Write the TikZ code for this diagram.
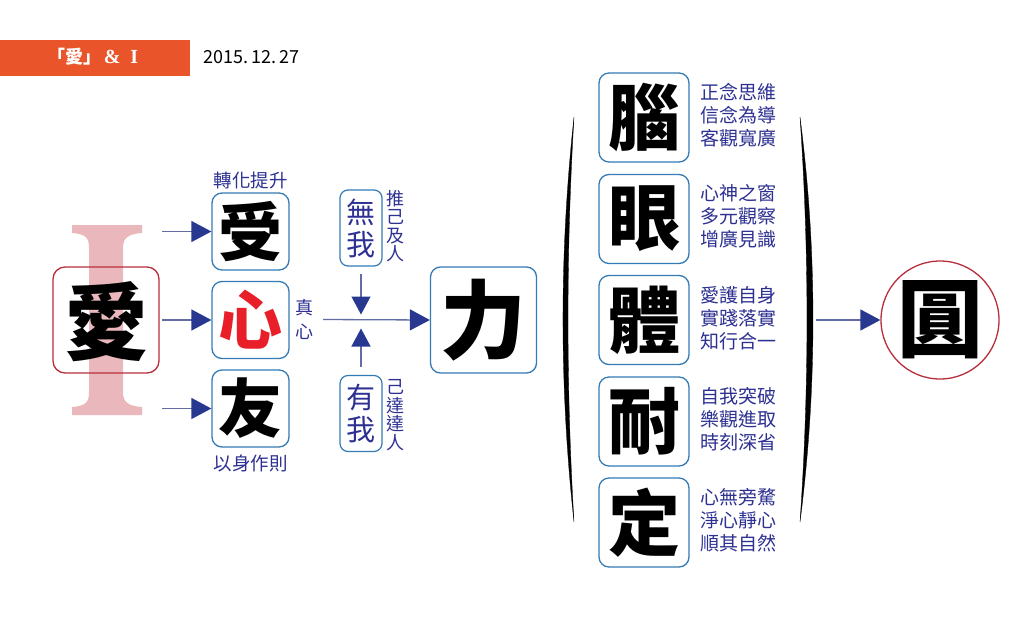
\documentclass[tikz,border=0pt]{standalone}
\usepackage{fontspec}
\newfontfamily\cjk{Noto Sans CJK TC}
\newfontfamily\titleserif{Liberation Serif}
\usetikzlibrary{arrows.meta}
\definecolor{orangebar}{RGB}{233,84,42}
\definecolor{navy}{RGB}{46,49,146}
\definecolor{arrnavy}{RGB}{40,56,144}
\definecolor{linecol}{RGB}{98,108,165}
\definecolor{boxblue}{RGB}{52,122,180}
\definecolor{boxred}{RGB}{184,46,60}
\definecolor{pinkI}{RGB}{234,184,188}
\definecolor{redchar}{RGB}{232,30,40}
\tikzset{
  bluebox/.style={draw=boxblue, line width=1.3pt, rounded corners=10pt, inner sep=0pt, minimum size=77pt},
  bigbox/.style={bluebox, minimum size=106pt},
  sidebox/.style={bluebox, minimum width=90pt, minimum height=89pt},
  wobox/.style={draw=boxblue, line width=1.2pt, rounded corners=8pt, inner sep=0pt, minimum width=42pt, minimum height=76pt, text=navy, align=center, font=\cjk\fontsize{29}{32}\selectfont},
  bigchar/.style={font=\cjk\bfseries\fontsize{#1}{#1}\selectfont},
  lbl/.style={text=navy, font=\cjk\fontsize{18.5}{19}\selectfont, inner sep=0pt},
  vlbl/.style={lbl, align=center},
  rlbl/.style={text=navy, font=\cjk\fontsize{19}{23}\selectfont, align=left, inner sep=0pt, anchor=west},
  arr/.style={draw=linecol, line width=1.3pt, -{Triangle[length=20pt,width=21pt,color=arrnavy]}},
  varr/.style={draw=linecol, line width=1.3pt, -{Triangle[length=18pt,width=19pt,color=arrnavy]}},
  paren/.style={fill=black, draw=black, line width=0.3pt}
}
\begin{document}
\begin{tikzpicture}[x=1pt,y=-1pt]
\useasboundingbox (0,0) rectangle (1024,640);
\fill[white] (0,0) rectangle (1024,640);
% header
\node[fill=orangebar, minimum width=190pt, minimum height=36pt, inner sep=0pt, anchor=north west] (bar) at (0,40) {};
\node[text=white, inner sep=0pt] (title) at (93,57) {{\cjk\bfseries\fontsize{18}{18}\selectfont 「愛」}\hspace{2pt}{\titleserif\bfseries\fontsize{20}{20}\selectfont\&\hspace{10pt}I}};
\node[anchor=west, inner sep=0pt, font=\cjk\fontsize{18}{18}\selectfont] (date) at (203,57) {2015.\,12.\,27};
% pink I
\fill[pinkI] (72,225) -- (142,225) -- (142,233)
  .. controls (128,234) and (123,238) .. (123,248) -- (123,392)
  .. controls (123,402) and (128,406) .. (142,407) -- (142,415) -- (72,415) -- (72,407)
  .. controls (86,406) and (89,402) .. (89,392) -- (89,248)
  .. controls (89,238) and (86,234) .. (72,233) -- cycle;
% ai box
\node[draw=boxred, line width=1.3pt, rounded corners=12pt, minimum size=106pt, inner sep=0pt] (ai) at (106,320) {};
\node[bigchar=84] (aichar) at (106,322) {愛};
% three boxes
\node[bluebox, bigchar=64] (shou) at (250.5,231.5) {受};
\node[bluebox, bigchar=64, text=redchar] (xin) at (250.5,320) {心};
\node[bluebox, bigchar=64] (you) at (250.5,408.5) {友};
\node[lbl] (zhuan) at (250.5,180) {轉化提升};
\node[lbl] (yishen) at (250.5,463) {以身作則};
\coordinate (s1) at (162,231.5);
\coordinate (s2) at (162,320);
\coordinate (s3) at (162,408.5);
\draw[arr] (s1) -- (shou.west);
\draw[arr] (s2) -- (xin.west);
\draw[arr] (s3) -- (you.west);
\node[vlbl, font=\cjk\fontsize{18}{24}\selectfont] (zhenxin) at (304,319) {真\\心};
% wu wo / you wo
\node[wobox] (wuwo) at (361,228) {無\\我};
\node[wobox] (youwo) at (361,413.5) {有\\我};
\node[vlbl, anchor=west, font=\cjk\fontsize{18}{18.5}\selectfont] (tuiji) at (386,226) {推\\己\\及\\人};
\node[vlbl, anchor=west, font=\cjk\fontsize{18}{18.5}\selectfont] (jida) at (386,415) {己\\達\\達\\人};
% li box
\node[bigbox, bigchar=86] (li) at (483.5,320) {力};
\coordinate (hs) at (323,319.5);
\coordinate (j) at (361,319.5);
\draw[arr] (hs) -- (li.west);
\draw[varr, shorten <=7pt, shorten >=5pt] (wuwo.south) -- (j);
\draw[varr, shorten <=8pt, shorten >=9pt] (youwo.north) -- (j);
% parentheses
\path[paren] (574,117) .. controls (559.3,252) and (559.3,387) .. (574,522)
  .. controls (566,387) and (566,252) .. (574,117) -- cycle;
\path[paren] (800,117) .. controls (817.3,252) and (817.3,387) .. (800,522)
  .. controls (809.3,387) and (809.3,252) .. (800,117) -- cycle;
% right column
\node[sidebox, bigchar=72] (nao) at (644,117.5) {腦};
\node[sidebox, bigchar=72] (yan) at (644,219) {眼};
\node[sidebox, bigchar=72] (ti) at (644,320) {體};
\node[sidebox, bigchar=72] (nai) at (644,421.5) {耐};
\node[sidebox, bigchar=72] (ding) at (644,522.5) {定};
\node[rlbl] (t1) at (700,115) {正念思維\\信念為導\\客觀寬廣};
\node[rlbl] (t2) at (700,216) {心神之窗\\多元觀察\\增廣見識};
\node[rlbl] (t3) at (700,318) {愛護自身\\實踐落實\\知行合一};
\node[rlbl] (t4) at (700,419) {自我突破\\樂觀進取\\時刻深省};
\node[rlbl] (t5) at (700,520) {心無旁騖\\淨心靜心\\順其自然};
% final
\node[draw=boxred, line width=1.3pt, circle, minimum size=118pt, inner sep=0pt] (yuan) at (940,320) {};
\node[bigchar=86] (yuanchar) at (940,320) {圓};
\coordinate (fs) at (816,320);
\draw[arr] (fs) -- (yuan.west);
\end{tikzpicture}
\end{document}
